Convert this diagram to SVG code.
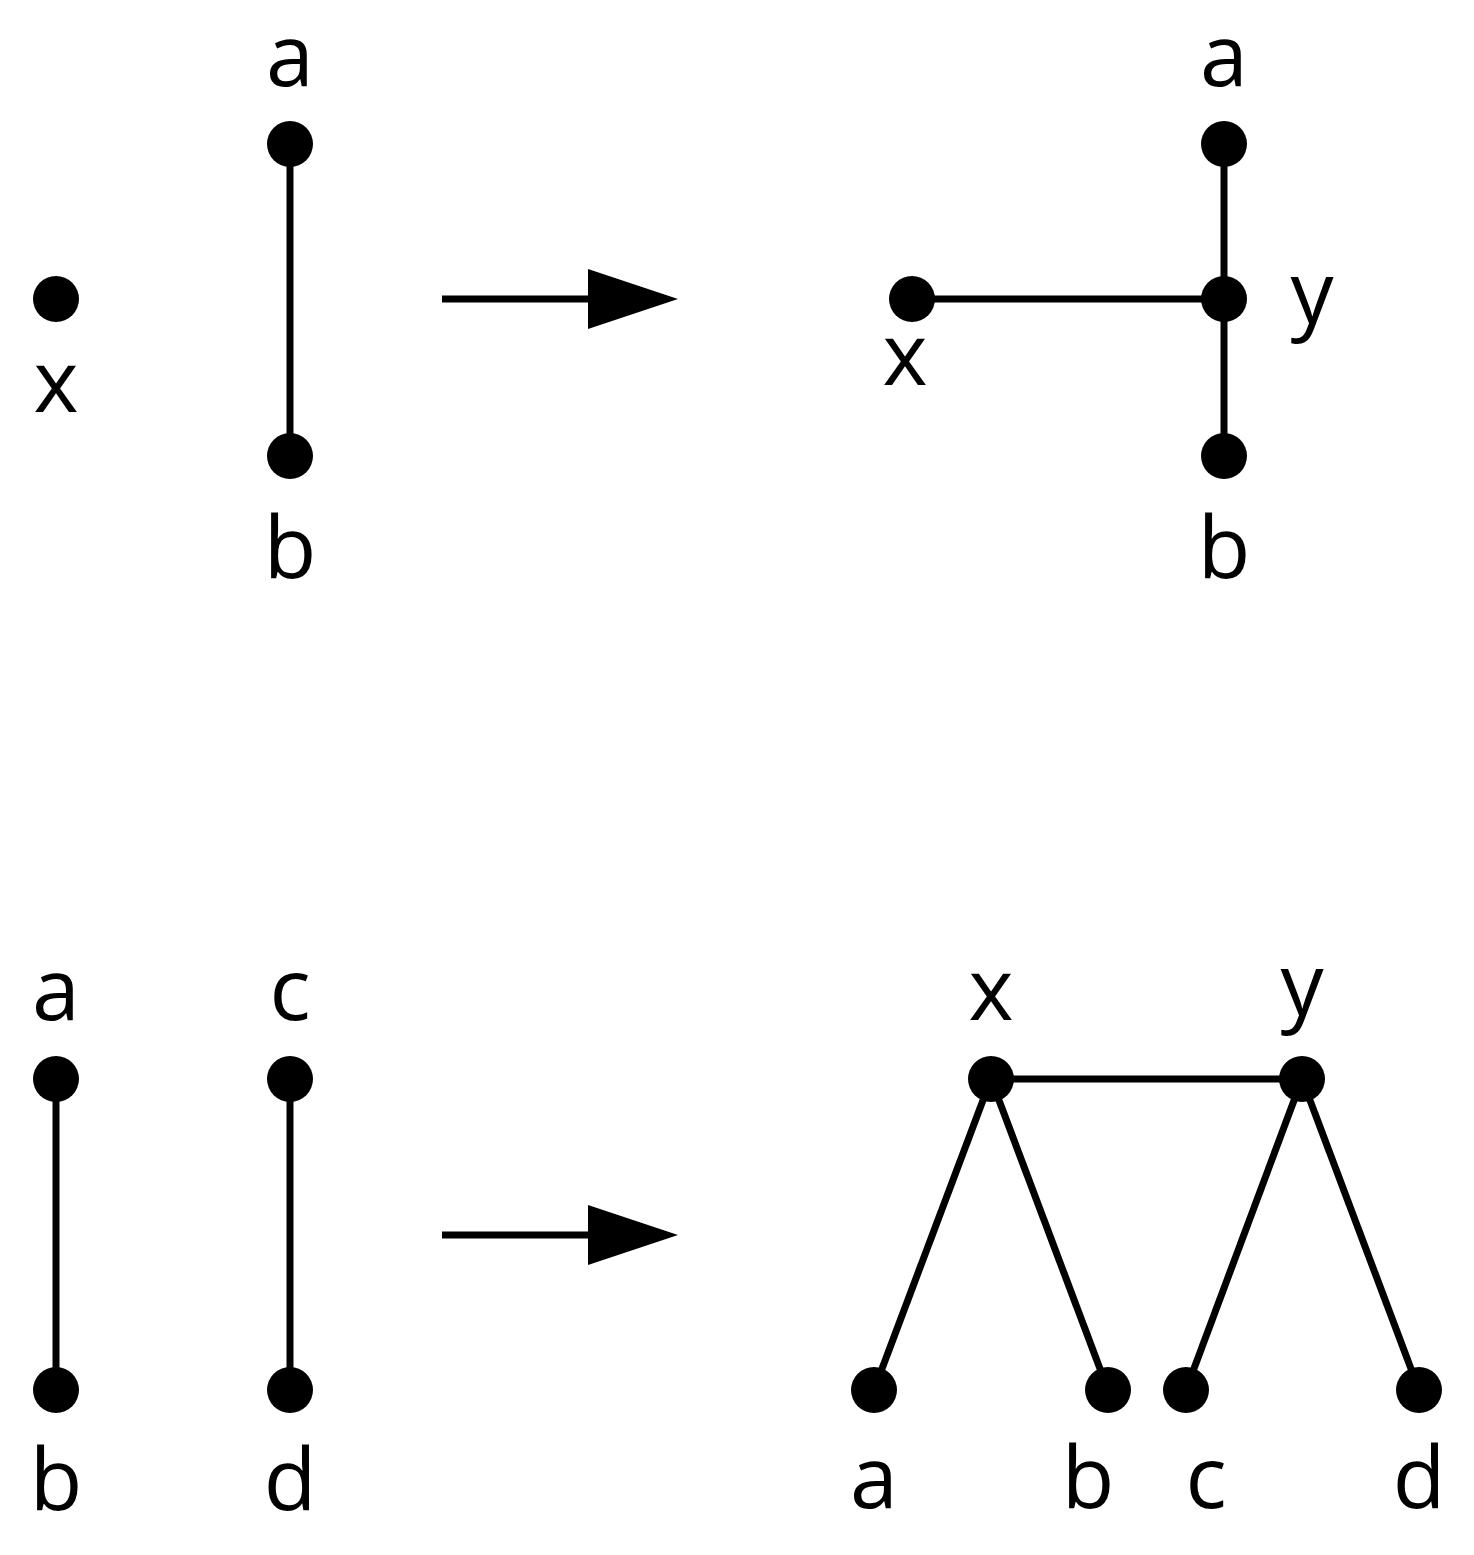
<svg xmlns="http://www.w3.org/2000/svg" width="1474" height="1555" viewBox="0 0 1474 1555">
<style>
.e{stroke:#000;stroke-width:7;fill:none}
.n{fill:#000}
text{font-family:"Open Sans","Noto Sans",sans-serif;font-size:86px;text-anchor:middle;fill:#000}
</style>
<rect width="1474" height="1555" fill="#fff"/>
<g id="connectors">
<line class="e" x1="290" y1="144" x2="290" y2="456"/>
<line class="e" x1="442" y1="299" x2="592" y2="299"/>
<polygon class="n" points="588,269 678,299 588,329"/>
<line class="e" x1="1224" y1="144" x2="1224" y2="456"/>
<line class="e" x1="912" y1="299" x2="1224" y2="299"/>
<line class="e" x1="56" y1="1079" x2="56" y2="1390"/>
<line class="e" x1="290" y1="1079" x2="290" y2="1390"/>
<line class="e" x1="442" y1="1235" x2="592" y2="1235"/>
<polygon class="n" points="588,1205 678,1235 588,1265"/>
<line class="e" x1="991" y1="1079" x2="1302" y2="1079"/>
<line class="e" x1="991" y1="1079" x2="874" y2="1390"/>
<line class="e" x1="991" y1="1079" x2="1108" y2="1390"/>
<line class="e" x1="1302" y1="1079" x2="1186" y2="1390"/>
<line class="e" x1="1302" y1="1079" x2="1419" y2="1390"/>
</g>
<g id="n1"><circle class="n" cx="56" cy="299" r="23"/><text x="56" y="412">x</text></g>
<g id="n2"><circle class="n" cx="290" cy="144" r="23"/><text x="290" y="86">a</text></g>
<g id="n3"><circle class="n" cx="290" cy="456" r="23"/><text x="290" y="578">b</text></g>
<g id="n4"><circle class="n" cx="912" cy="299" r="23"/><text x="905" y="385">x</text></g>
<g id="n5"><circle class="n" cx="1224" cy="144" r="23"/><text x="1224" y="86">a</text></g>
<g id="n6"><circle class="n" cx="1224" cy="299" r="23"/><text x="1312" y="323">y</text></g>
<g id="n7"><circle class="n" cx="1224" cy="456" r="23"/><text x="1224" y="578">b</text></g>
<g id="n8"><circle class="n" cx="56" cy="1079" r="23"/><text x="56" y="1020">a</text></g>
<g id="n9"><circle class="n" cx="56" cy="1390" r="23"/><text x="56" y="1510">b</text></g>
<g id="n10"><circle class="n" cx="290" cy="1079" r="23"/><text x="290" y="1020">c</text></g>
<g id="n11"><circle class="n" cx="290" cy="1390" r="23"/><text x="290" y="1510">d</text></g>
<g id="n12"><circle class="n" cx="991" cy="1079" r="23"/><text x="991" y="1020">x</text></g>
<g id="n13"><circle class="n" cx="1302" cy="1079" r="23"/><text x="1302" y="1015">y</text></g>
<g id="n14"><circle class="n" cx="874" cy="1390" r="23"/><text x="874" y="1508">a</text></g>
<g id="n15"><circle class="n" cx="1108" cy="1390" r="23"/><text x="1088" y="1508">b</text></g>
<g id="n16"><circle class="n" cx="1186" cy="1390" r="23"/><text x="1206" y="1508">c</text></g>
<g id="n17"><circle class="n" cx="1419" cy="1390" r="23"/><text x="1419" y="1508">d</text></g>
</svg>
